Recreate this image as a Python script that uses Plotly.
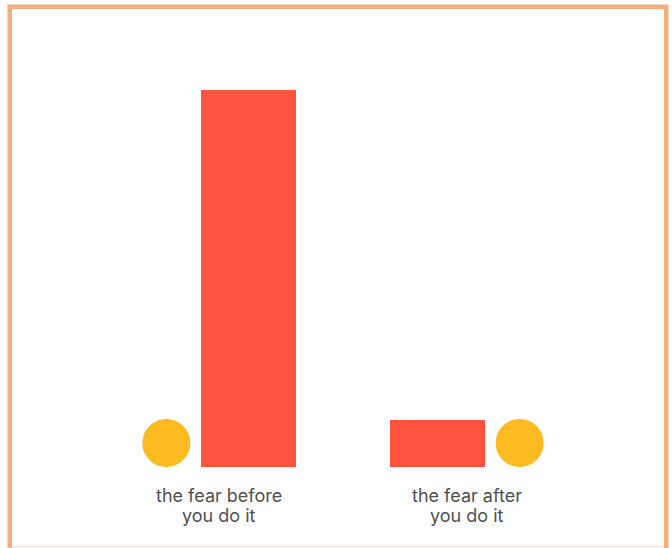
import plotly.graph_objects as go

# ---- data ----
label_line1 = ["the fear before", "the fear after"]
label_line2 = ["you do it", "you do it"]
fear_values = [100, 12.5]
bar_side = [1, -1]          # bar to the right of the circle, then to the left
circle_side = [-1, 1]

# ---- layout constants ----
W, H = 672, 548
ML, MR, MT, MB = 21, 7, 50, 81
XR = [-0.8, 1.8]
YR = [0, 110.6]
plot_w = W - ML - MR
plot_h = H - MT - MB
px_per_x = plot_w / (XR[1] - XR[0])
px_per_y = plot_h / (YR[1] - YR[0])

bar_w = 95 / px_per_x
bar_gap = 29.5 / px_per_x
circ_gap = 52.8 / px_per_x
circ_d = 48

xpos = list(range(len(fear_values)))
bar_x = [x + s * bar_gap for x, s in zip(xpos, bar_side)]
circ_x = [x + s * circ_gap for x, s in zip(xpos, circle_side)]
circ_y = [(circ_d / 2) / px_per_y] * len(fear_values)

fig = go.Figure()
fig.add_trace(go.Bar(
    x=bar_x, y=fear_values, width=bar_w,
    marker=dict(color="#FF5341", line=dict(width=0)),
    hoverinfo="skip", showlegend=False,
))
fig.add_trace(go.Scatter(
    x=circ_x, y=circ_y, mode="markers",
    marker=dict(size=circ_d, color="#FDBA21", line=dict(width=0)),
    hoverinfo="skip", showlegend=False, cliponaxis=False,
))

# two-line category labels
for x, l1, l2 in zip(xpos, label_line1, label_line2):
    for txt, shift in ((l1, -16), (l2, -36)):
        fig.add_annotation(x=x, xref="x", y=0, yref="paper", text=txt,
                           showarrow=False, yanchor="top", yshift=shift,
                           font=dict(family="Inter", size=18, color="#505050"))

# frame
def px2paper_x(px):
    return (px - ML) / plot_w

def px2paper_y(py):
    return (H - MB - py) / plot_h

fig.add_shape(type="rect", xref="paper", yref="paper",
              x0=px2paper_x(7.5), x1=px2paper_x(668.5),
              y0=px2paper_y(552), y1=px2paper_y(4.5),
              line=dict(color="rgba(215,185,165,0.6)", width=1), layer="below")
fig.add_shape(type="rect", xref="paper", yref="paper",
              x0=px2paper_x(10), x1=px2paper_x(666),
              y0=px2paper_y(550), y1=px2paper_y(7),
              line=dict(color="#F2B080", width=4), layer="below")
# faint bottom edge
fig.add_shape(type="line", xref="paper", yref="paper",
              x0=px2paper_x(12), x1=px2paper_x(664),
              y0=px2paper_y(546.5), y1=px2paper_y(546.5),
              line=dict(color="rgba(240,215,195,0.7)", width=1.5), layer="below")

fig.update_layout(
    width=W, height=H,
    margin=dict(l=ML, r=MR, t=MT, b=MB),
    paper_bgcolor="white", plot_bgcolor="white",
    font=dict(family="Inter", size=18, color="#505050"),
    bargap=0,
    xaxis=dict(range=XR, showticklabels=False,
               showgrid=False, zeroline=False, showline=False,
               ticks="", fixedrange=True),
    yaxis=dict(range=YR, visible=False, showgrid=False,
               zeroline=False, fixedrange=True),
    hovermode=False,
)

fig.write_html("out.html", config={"displayModeBar": False},
               post_script="document.body.style.margin='0';document.body.style.overflow='hidden';")
